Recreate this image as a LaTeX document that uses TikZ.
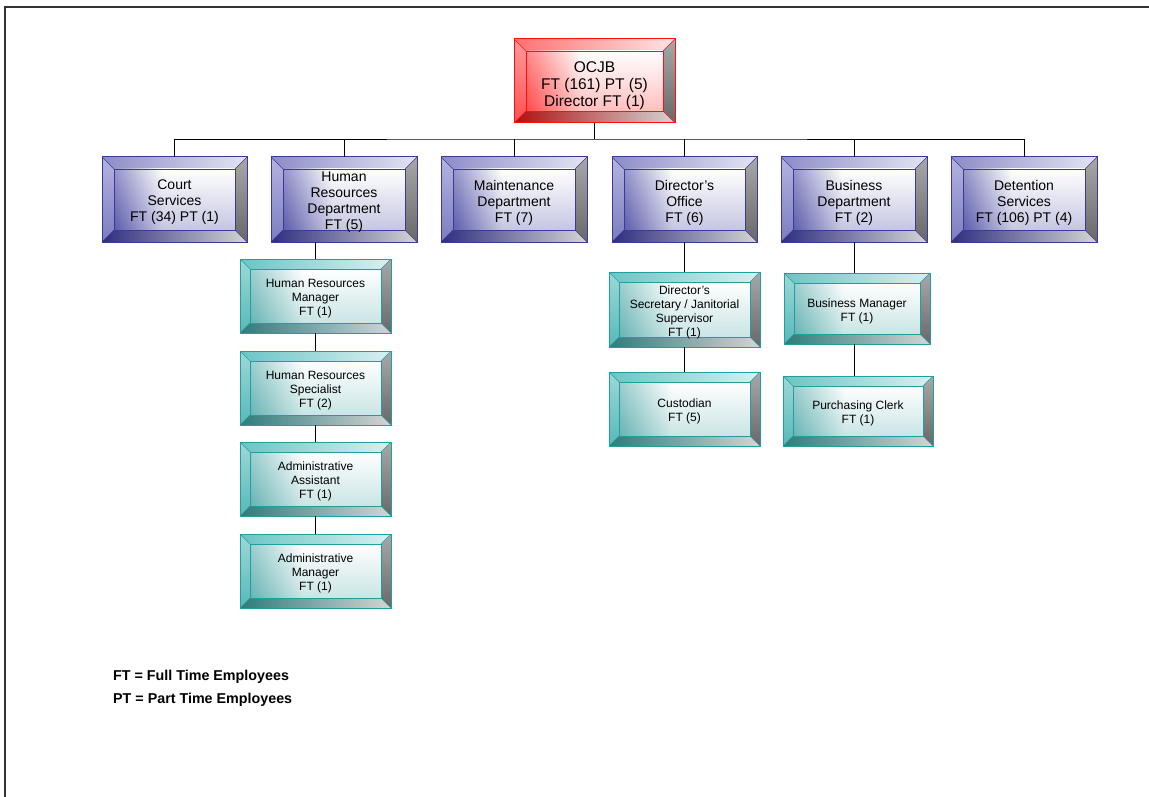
\documentclass[tikz,border=0pt]{standalone}
\usepackage{fontspec}
\setmainfont{Liberation Sans}
\begin{document}
\begin{tikzpicture}[x=1pt,y=-1pt]
\definecolor{blline}{HTML}{3A3A98}
\definecolor{bltopA}{HTML}{8C8CC8}\definecolor{bltopB}{HTML}{E4E4F4}
\definecolor{blleftA}{HTML}{B4B4E0}\definecolor{blleftB}{HTML}{7C7CC0}
\definecolor{blbotA}{HTML}{2E2E80}\definecolor{blbotB}{HTML}{D4D4D4}
\definecolor{blface}{HTML}{5C5CAC}
\definecolor{teline}{HTML}{1FA0A0}
\definecolor{tetopA}{HTML}{6CC4C4}\definecolor{tetopB}{HTML}{D8F0F0}
\definecolor{teleftA}{HTML}{9ED8D8}\definecolor{teleftB}{HTML}{58B8B8}
\definecolor{tebotA}{HTML}{2F7C7C}\definecolor{tebotB}{HTML}{D4D4D4}
\definecolor{teface}{HTML}{68B4B4}
\definecolor{rdline}{HTML}{FF1010}
\definecolor{rdtopA}{HTML}{FF7070}\definecolor{rdtopB}{HTML}{FFE4E4}
\definecolor{rdleftA}{HTML}{FF9A9A}\definecolor{rdleftB}{HTML}{FF5050}
\definecolor{rdbotA}{HTML}{B01010}\definecolor{rdbotB}{HTML}{D4D4D4}
\definecolor{rdface}{HTML}{FF4A4A}
\definecolor{grA}{HTML}{A8A8A8}\definecolor{grB}{HTML}{686868}
\definecolor{framec}{HTML}{333333}
\pgfdeclarehorizontalshading{blfaceshade}{100bp}{color(0bp)=(blface); color(25bp)=(blface); color(45bp)=(white); color(100bp)=(white)}
\pgfdeclarehorizontalshading{tefaceshade}{100bp}{color(0bp)=(teface); color(25bp)=(teface); color(45bp)=(white); color(100bp)=(white)}
\pgfdeclarehorizontalshading{rdfaceshade}{100bp}{color(0bp)=(rdface); color(25bp)=(rdface); color(45bp)=(white); color(100bp)=(white)}
\tikzset{
  boxtext/.style={inner sep=0pt, align=center, text=black},
  bigfont/.style={font=\fontsize{15.5}{17}\selectfont, text depth=0pt, yshift=-3.5pt},
  midfont/.style={font=\fontsize{14}{16}\selectfont, yshift=-3pt},
  smallfont/.style={font=\fontsize{12}{14}\selectfont, yshift=-2.5pt},
  legend/.style={anchor=west, inner sep=0pt, font=\fontsize{14.3}{16}\selectfont\bfseries},
  conn/.style={draw=black, line width=0.9pt},
  frameline/.style={draw=framec, line width=2pt}
}
\newcommand\bevbox[9]{%
  \pgfmathsetmacro\bxA{#2+#6}\pgfmathsetmacro\byA{#3+#6}%
  \pgfmathsetmacro\bxB{#4-#6}\pgfmathsetmacro\byB{#5-#6}%
  \pgfmathsetmacro\bcx{(#2+#4)/2}\pgfmathsetmacro\bcy{(#3+#5)/2}%
  \pgfmathsetmacro\bw{#4-#2}\pgfmathsetmacro\bh{#5-#3}%
  \shade[left color=#7topA, right color=#7topB] (#2,#3) -- (#4,#3) -- (\bxB,\byA) -- (\bxA,\byA) -- cycle;
  \shade[top color=#7leftA, bottom color=#7leftB] (#2,#3) -- (\bxA,\byA) -- (\bxA,\byB) -- (#2,#5) -- cycle;
  \shade[top color=grA, bottom color=grB] (#4,#3) -- (\bxB,\byA) -- (\bxB,\byB) -- (#4,#5) -- cycle;
  \shade[left color=#7botA, right color=#7botB] (#2,#5) -- (#4,#5) -- (\bxB,\byB) -- (\bxA,\byB) -- cycle;
  \shade[shading=#7faceshade] (\bxA,\byA) rectangle (\bxB,\byB);
  \shade[top color=white, bottom color=#7face, opacity=0.35] (\bxA,\byA) rectangle (\bxB,\byB);
  \draw[#7line, line width=0.8pt] (\bxA,\byA) rectangle (\bxB,\byB);
  \draw[#7line, line width=0.5pt] (#2,#3) -- (\bxA,\byA) (#4,#3) -- (\bxB,\byA) (#2,#5) -- (\bxA,\byB) (#4,#5) -- (\bxB,\byB);
  \draw[#7line, line width=1pt] (#2,#3) rectangle (#4,#5);
  \node[boxtext, #8, minimum width=\bw pt, minimum height=\bh pt] (#1) at (\bcx,\bcy) {#9};
  \coordinate (#1-top) at (\bcx,#3);
  \coordinate (#1-bot) at (\bcx,#5);
}
\useasboundingbox (0,0) rectangle (1149,797);
\fill[white] (0,0) rectangle (1149,797);
\draw[frameline] (4,7) -- (1149,7);
\draw[frameline] (5,6) -- (5,797);

\bevbox{ocjb}{514}{39}{675}{123}{12}{rd}{bigfont}{OCJB\\FT (161) PT (5)\\Director FT (1)}
\bevbox{court}{102}{157}{247}{242}{12}{bl}{midfont}{Court\\Services\\FT (34) PT (1)}
\bevbox{hr}{271}{157}{417}{242}{12}{bl}{midfont}{Human\\Resources\\Department\\FT (5)}
\bevbox{maint}{441}{157}{587}{242}{12}{bl}{midfont}{Maintenance\\Department\\FT (7)}
\bevbox{diro}{612}{157}{757}{242}{12}{bl}{midfont}{Director's\\Office\\FT (6)}
\bevbox{bus}{781}{157}{927}{242}{12}{bl}{midfont}{Business\\Department\\FT (2)}
\bevbox{det}{951}{157}{1097}{242}{12}{bl}{midfont}{Detention\\Services\\FT (106) PT (4)}

\bevbox{hrm}{240}{259}{391}{333}{10}{te}{smallfont}{Human Resources\\Manager\\FT (1)}
\bevbox{hrs}{240}{351}{391}{425}{10}{te}{smallfont}{Human Resources\\Specialist\\FT (2)}
\bevbox{aa}{240}{442}{391}{516}{10}{te}{smallfont}{Administrative\\Assistant\\FT (1)}
\bevbox{am}{240}{534}{391}{608}{10}{te}{smallfont}{Administrative\\Manager\\FT (1)}
\bevbox{dss}{609}{272}{760}{347}{10}{te}{smallfont}{Director's\\Secretary / Janitorial\\Supervisor\\FT (1)}
\bevbox{cust}{609}{372}{760}{446}{10}{te}{smallfont}{Custodian\\FT (5)}
\bevbox{bm}{784}{273}{930}{344}{10}{te}{smallfont}{Business Manager\\FT (1)}
\bevbox{pc}{783}{376}{933}{446}{10}{te}{smallfont}{Purchasing Clerk\\FT (1)}

\coordinate (bar) at (594.5,139);
\draw[conn] (ocjb-bot) -- (bar);
\draw[conn] (court-top) |- (bar) -| (det-top);
\foreach \n in {hr,maint,diro,bus} \draw[conn] (\n-top) -- (\n-top |- bar);

\draw[conn] (hrm-top) -- (hrm-top |- hr-bot);
\draw[conn] (hrm-bot) -- (hrs-top);
\draw[conn] (hrs-bot) -- (aa-top);
\draw[conn] (aa-bot) -- (am-top);
\draw[conn] (diro-bot) -- (dss-top);
\draw[conn] (dss-bot) -- (cust-top);
\draw[conn] (bus-bot) -- (bus-bot |- bm-top);
\draw[conn] (bus-bot |- bm-bot) -- (bus-bot |- pc-top);

\node[legend] (ftleg) at (113,677) {FT = Full Time Employees};
\node[legend] (ptleg) at (113,700) {PT = Part Time Employees};
\end{tikzpicture}
\end{document}
